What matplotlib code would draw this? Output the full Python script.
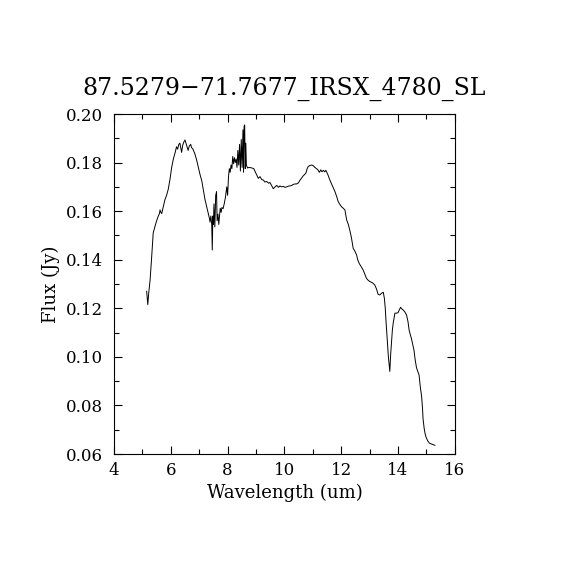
import matplotlib
matplotlib.use('Agg')
import matplotlib.pyplot as plt
from matplotlib.ticker import MultipleLocator

TITLE = '87.5279\u221271.7677_IRSX_4780_SL'

# spectrum
wave = [5.15, 5.17, 5.19, 5.22, 5.27, 5.32, 5.38, 5.44, 5.50, 5.56,
        5.60, 5.62, 5.65, 5.68, 5.73, 5.79, 5.85, 5.91, 5.97, 6.03,
        6.09, 6.15, 6.18, 6.20, 6.24, 6.28, 6.32, 6.35, 6.38, 6.42,
        6.46, 6.50, 6.54, 6.58, 6.61, 6.65, 6.70, 6.73, 6.78, 6.85,
        6.91, 6.97, 7.03, 7.09, 7.15, 7.20, 7.26, 7.32, 7.36, 7.38,
        7.41, 7.44, 7.46, 7.48, 7.50, 7.52, 7.55, 7.58, 7.61, 7.63,
        7.66, 7.69, 7.71, 7.74, 7.77, 7.80, 7.84, 7.88, 7.92, 7.97,
        8.00, 8.03, 8.06, 8.09, 8.12, 8.15, 8.18, 8.21, 8.24, 8.27,
        8.30, 8.33, 8.36, 8.39, 8.42, 8.45, 8.48, 8.51, 8.54, 8.56,
        8.58, 8.60, 8.62, 8.64, 8.66, 8.70, 8.76, 8.85, 8.92, 8.98,
        9.04, 9.08, 9.14, 9.20, 9.26, 9.31, 9.38, 9.44, 9.49, 9.55,
        9.61, 9.67, 9.73, 9.79, 9.84, 9.90, 9.96, 10.02, 10.08, 10.14,
        10.20, 10.26, 10.31, 10.37, 10.43, 10.49, 10.55, 10.60, 10.66, 10.72,
        10.76, 10.80, 10.84, 10.90, 10.96, 11.02, 11.07, 11.13, 11.18, 11.23,
        11.28, 11.32, 11.37, 11.42, 11.46, 11.53, 11.60, 11.66, 11.72, 11.78,
        11.84, 11.89, 11.95, 12.01, 12.07, 12.13, 12.16, 12.19, 12.25, 12.30,
        12.36, 12.42, 12.48, 12.54, 12.58, 12.63, 12.70, 12.77, 12.83, 12.89,
        12.95, 13.01, 13.10, 13.18, 13.24, 13.30, 13.36, 13.42, 13.48, 13.52,
        13.55, 13.58, 13.62, 13.66, 13.71, 13.74, 13.77, 13.80, 13.83, 13.89,
        13.95, 14.00, 14.05, 14.09, 14.13, 14.18, 14.24, 14.30, 14.35, 14.39,
        14.43, 14.47, 14.51, 14.56, 14.60, 14.65, 14.70, 14.74, 14.78, 14.83,
        14.86, 14.88, 14.92, 14.95, 14.98, 15.04, 15.10, 15.20, 15.30]

flux = [0.1270, 0.1240, 0.1215, 0.1260, 0.1316, 0.1400, 0.1510, 0.1536, 0.1560, 0.1580,
        0.1590, 0.1605, 0.1595, 0.1590, 0.1615, 0.1646, 0.1665, 0.1690, 0.1730, 0.1780,
        0.1815, 0.1840, 0.1855, 0.1865, 0.1855, 0.1875, 0.1880, 0.1860, 0.1842, 0.1872,
        0.1885, 0.1893, 0.1878, 0.1862, 0.1850, 0.1868, 0.1875, 0.1862, 0.1855, 0.1835,
        0.1810, 0.1780, 0.1750, 0.1725, 0.1685, 0.1650, 0.1620, 0.1590, 0.1570, 0.1555,
        0.1580, 0.1545, 0.1440, 0.1580, 0.1545, 0.1630, 0.1535, 0.1665, 0.1680, 0.1560,
        0.1588, 0.1545, 0.1575, 0.1612, 0.1595, 0.1615, 0.1610, 0.1630, 0.1655, 0.1700,
        0.1665, 0.1740, 0.1775, 0.1760, 0.1790, 0.1775, 0.1825, 0.1795, 0.1820, 0.1800,
        0.1815, 0.1780, 0.1850, 0.1790, 0.1875, 0.1765, 0.1895, 0.1780, 0.1935, 0.1760,
        0.1950, 0.1955, 0.1775, 0.1880, 0.1790, 0.1778, 0.1780, 0.1778, 0.1775, 0.1760,
        0.1745, 0.1735, 0.1742, 0.1730, 0.1728, 0.1720, 0.1722, 0.1715, 0.1718, 0.1705,
        0.1692, 0.1700, 0.1706, 0.1698, 0.1704, 0.1700, 0.1702, 0.1698, 0.1700, 0.1703,
        0.1704, 0.1706, 0.1710, 0.1712, 0.1712, 0.1716, 0.1728, 0.1736, 0.1745, 0.1752,
        0.1758, 0.1775, 0.1784, 0.1788, 0.1790, 0.1787, 0.1780, 0.1775, 0.1770, 0.1760,
        0.1770, 0.1762, 0.1768, 0.1762, 0.1768, 0.1750, 0.1728, 0.1712, 0.1695, 0.1680,
        0.1660, 0.1640, 0.1628, 0.1618, 0.1612, 0.1605, 0.1585, 0.1564, 0.1545, 0.1522,
        0.1490, 0.1447, 0.1435, 0.1420, 0.1400, 0.1385, 0.1372, 0.1358, 0.1340, 0.1323,
        0.1315, 0.1310, 0.1305, 0.1296, 0.1280, 0.1257, 0.1255, 0.1262, 0.1266, 0.1240,
        0.1200, 0.1140, 0.1070, 0.1000, 0.0940, 0.1010, 0.1060, 0.1110, 0.1140, 0.1180,
        0.1180, 0.1182, 0.1195, 0.1204, 0.1198, 0.1193, 0.1185, 0.1172, 0.1145, 0.1110,
        0.1092, 0.1076, 0.1055, 0.1028, 0.0990, 0.0955, 0.0938, 0.0925, 0.0880, 0.0836,
        0.0790, 0.0745, 0.0705, 0.0685, 0.0671, 0.0655, 0.0645, 0.0640, 0.0636]

plt.rcParams['font.family'] = ['DejaVu Serif']

fig = plt.figure(figsize=(5.7, 5.7), dpi=100)
ax = fig.add_axes([0.2, 0.2035, 0.598, 0.5965])

ax.plot(wave, flux, color='black', linewidth=0.7)

ax.set_xlim(4, 16)
ax.set_ylim(0.06, 0.20)
ax.xaxis.set_major_locator(MultipleLocator(2))
ax.xaxis.set_minor_locator(MultipleLocator(1))
ax.yaxis.set_major_locator(MultipleLocator(0.02))
ax.yaxis.set_minor_locator(MultipleLocator(0.01))
ax.yaxis.set_major_formatter(plt.FormatStrFormatter('%.2f'))

ax.tick_params(which='both', direction='in', top=True, right=True,
               width=0.8, labelsize=12)
ax.tick_params(which='major', length=6)
ax.tick_params(which='minor', length=3.5)
ax.tick_params(axis='y', which='major', pad=8)
ax.tick_params(axis='x', which='major', pad=6)
for s in ax.spines.values():
    s.set_linewidth(0.8)

ax.set_xlabel('Wavelength (um)', fontsize=13, labelpad=3)
ax.set_ylabel('Flux (Jy)', fontsize=13, labelpad=4)
ax.set_title(TITLE, fontsize=17, pad=14)

fig.savefig('out.png', dpi=100)
